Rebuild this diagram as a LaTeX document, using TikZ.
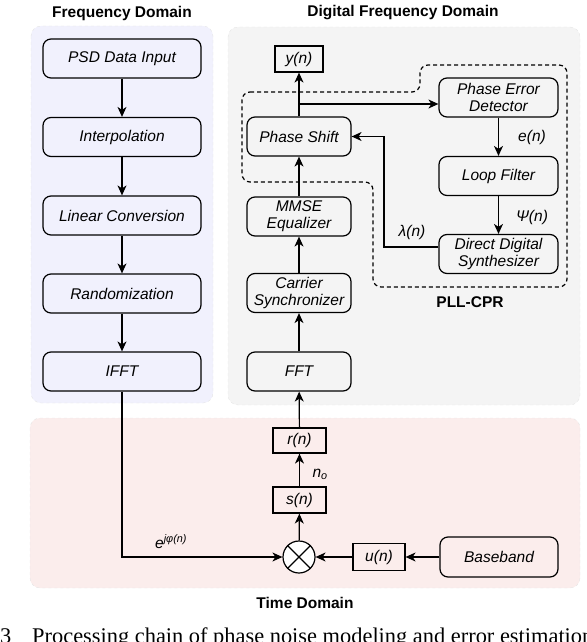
\documentclass[tikz,border=0pt]{standalone}
\usepackage{fontspec}
\setmainfont{Liberation Sans}
\newfontfamily\capfont{Liberation Serif}
\usetikzlibrary{arrows.meta,calc}
\definecolor{lav}{RGB}{241,241,253}
\definecolor{gry}{RGB}{244,244,244}
\definecolor{pnk}{RGB}{251,237,236}
\begin{document}
\begin{tikzpicture}[x=1pt,y=-1pt,
  every node/.style={font=\fontsize{15.5}{17}\selectfont},
  rbox/.style={draw,rounded corners=8pt,line width=1.2pt,inner sep=0pt,align=center,font=\fontsize{15.5}{17}\selectfont\itshape},
  sbox/.style={draw,line width=1.2pt,inner sep=0pt,font=\fontsize{15.5}{17}\selectfont\itshape},
  lbl/.style={font=\fontsize{15.5}{17}\selectfont\itshape},
  arr/.style={line width=1.2pt,-{Stealth[length=10pt,width=9pt,inset=3pt]}},
  panel/.style={draw=black!10,dashed,rounded corners=10pt},
  ttl/.style={font=\fontsize{15.5}{17}\selectfont\bfseries},
  captxt/.style={font=\capfont\fontsize{22.4}{24}\selectfont,anchor=base west,inner sep=0pt}
]
\useasboundingbox (0,0) rectangle (586,642);
% panels
\draw[panel,fill=lav] (31,26) rectangle (213,403);
\draw[panel,fill=gry] (228,27) rectangle (580,405);
\draw[panel,fill=pnk] (30,418) rectangle (580,588);
% titles
\node[ttl] (t1) at (122,13) {Frequency Domain};
\node[ttl] (t2) at (403,13) {Digital Frequency Domain};
\node[ttl] (t3) at (305,603) {Time Domain};
\node[ttl] (t4) at (470,302) {PLL-CPR};
% PLL boundary
\draw[line width=1.2pt,dash pattern=on 4pt off 3pt,rounded corners=8pt]
  (242,92) -- (420,92) -- (420,65) -- (567,65) -- (567,287) -- (373,287) -- (373,182) -- (242,182) -- cycle;
% left column
\node[rbox,minimum width=158pt,minimum height=39pt] (psd) at (122,58.5) {PSD Data Input};
\node[rbox,minimum width=158pt,minimum height=39pt] (interp) at (122,137) {Interpolation};
\node[rbox,minimum width=158pt,minimum height=39pt] (lin) at (122,215.5) {Linear Conversion};
\node[rbox,minimum width=158pt,minimum height=39pt] (rand) at (122,293.5) {Randomization};
\node[rbox,minimum width=158pt,minimum height=39pt] (ifft) at (122,371.5) {IFFT};
% right column
\node[sbox,minimum width=48pt,minimum height=26pt] (yn) at (299,59) {y(n)};
\node[rbox,minimum width=104pt,minimum height=39pt] (ps) at (299,136.5) {Phase Shift};
\node[rbox,minimum width=104pt,minimum height=39pt] (mmse) at (299,216.5) {MMSE\\Equalizer};
\node[rbox,minimum width=104pt,minimum height=39pt] (cs) at (299,293) {Carrier\\Synchronizer};
\node[rbox,minimum width=104pt,minimum height=39pt] (fft) at (299,371.5) {FFT};
% PLL
\node[rbox,minimum width=119pt,minimum height=39pt] (ped) at (498.5,97.5) {Phase Error\\Detector};
\node[rbox,minimum width=119pt,minimum height=39pt] (lf) at (498.5,176) {Loop Filter};
\node[rbox,minimum width=119pt,minimum height=39pt] (dds) at (498.5,254) {Direct Digital\\Synthesizer};
% time domain
\node[sbox,minimum width=53pt,minimum height=25pt] (rn) at (299.5,440.5) {r(n)};
\node[sbox,minimum width=53pt,minimum height=26pt] (sn) at (299.5,500) {s(n)};
\node[draw,circle,line width=1.2pt,fill=white,minimum size=32pt,inner sep=0pt] (mix) at (299,557) {};
\draw[line width=1.2pt] (mix.north east) -- (mix.south west) (mix.north west) -- (mix.south east);
\node[sbox,minimum width=52pt,minimum height=27pt] (un) at (379,557) {u(n)};
\node[rbox,minimum width=118pt,minimum height=40pt] (bb) at (499,557) {Baseband};
% labels
\node[lbl] (en) at (532,137) {e(n)};
\node[lbl] (psin) at (532,217) {Ψ(n)};
\node[lbl] (lam) at (412,232) {λ(n)};
\node[lbl,anchor=west] (no) at (309,474) {n\textsubscript{o}};
\node[lbl,anchor=base west,inner sep=0pt] (ej) at (155,548) {e\textsuperscript{jφ(n)}};
% caption
\node[captxt] (capn) at (0,643) {3};
\node[captxt] (cap) at (32,643) {Processing chain of phase noise modeling and error estimation};
% connectors left
\draw[arr] (psd) -- (interp);
\draw[arr] (interp) -- (lin);
\draw[arr] (lin) -- (rand);
\draw[arr] (rand) -- (ifft);
% connectors right
\draw[arr] (rn) -- (fft);
\draw[arr] (fft) -- (cs);
\draw[arr] (cs) -- (mmse);
\draw[arr] (mmse) -- (ps);
\draw[arr] (ps) -- (yn);
\coordinate (br) at (299,104);
\draw[arr] (br) -- (br -| ped.west);
\draw[arr] (ped) -- (lf);
\draw[arr] (lf) -- (dds);
\coordinate (ddsl) at ($(dds.west)+(0,-7)$);
\coordinate (turn) at (384,0);
\draw[arr] (ddsl) -- (ddsl -| turn) |- (ps.east);
% time domain connectors
\draw[arr] (sn) -- (rn);
\draw[arr] (mix) -- (sn);
\draw[arr] (un) -- (mix);
\draw[arr] (bb) -- (un);
\draw[arr] (ifft.south) |- (mix.west);
\end{tikzpicture}
\end{document}
